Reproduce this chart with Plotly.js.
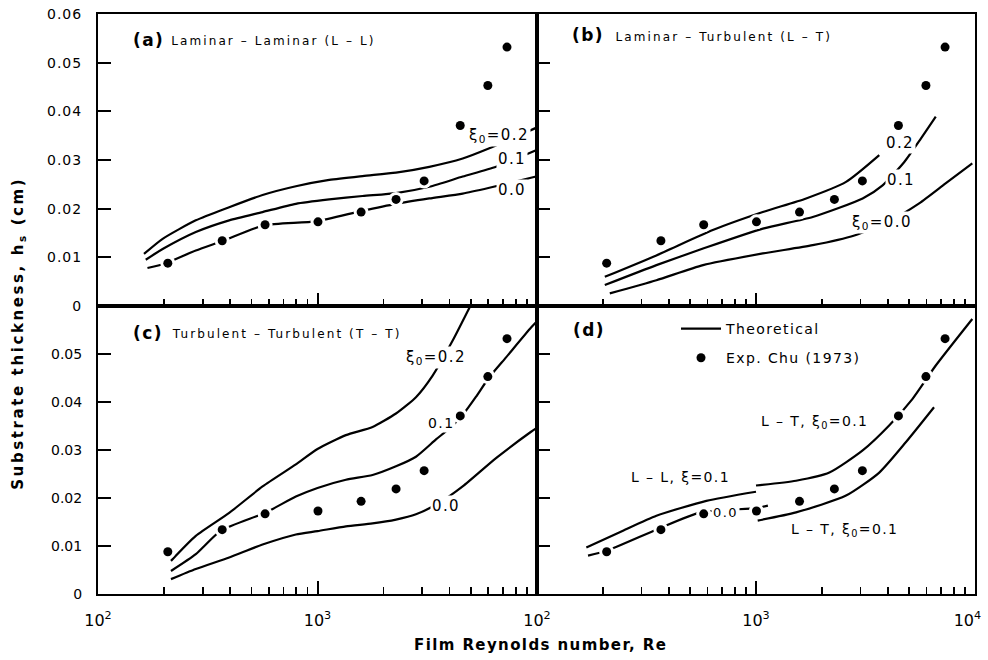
<!DOCTYPE html>
<html>
<head>
<meta charset="utf-8">
<script src="https://cdn.plot.ly/plotly-3.0.1.min.js"></script>
<style>
html,body{margin:0;padding:0;background:#fff;}
#chart{width:988px;height:660px;}
.annotation-text{letter-spacing:1.4px;}
.legendtext{letter-spacing:1.4px;}
.ytick text{letter-spacing:1px;}
.xtick text{letter-spacing:1px;}
</style>
</head>
<body>
<div id="chart"></div>
<script>
// Experimental data, Chu (1973)
const expRe = [208, 368, 577, 1005, 1580, 2280, 3060, 4470, 5970, 7300];
const expH  = [0.0088, 0.0134, 0.0167, 0.0173, 0.0193, 0.0219, 0.0257, 0.0371, 0.0453, 0.0532];

// (a) Laminar-Laminar
const aRe02 = [162, 197, 279, 396, 562, 797, 1131, 1605, 2278, 3232, 4587, 6067, 9900];
const aH02  = [0.0107, 0.0138, 0.0176, 0.0203, 0.0228, 0.0246, 0.0259, 0.0267, 0.0274, 0.0286, 0.0303, 0.0324, 0.0366];
const aRe01 = [165, 197, 279, 396, 562, 797, 1131, 1605, 2278, 3232, 4587, 6509, 9900];
const aH01  = [0.0095, 0.0117, 0.0152, 0.0176, 0.0193, 0.0210, 0.0219, 0.0226, 0.0232, 0.0245, 0.0266, 0.0286, 0.0320];
const aRe00 = [168, 204, 279, 376, 572, 983, 1578, 2278, 3232, 4587, 6067, 9900];
const aH00  = [0.0078, 0.0088, 0.0114, 0.0135, 0.0166, 0.0174, 0.0195, 0.0210, 0.0221, 0.0231, 0.0243, 0.0266];

// (b) Laminar-Turbulent
const bRe02 = [204, 351, 635, 1074, 1694, 2577, 3655];
const bH02  = [0.0060, 0.0104, 0.0156, 0.0193, 0.0221, 0.0255, 0.0310];
const bRe01 = [204, 351, 573, 1074, 1816, 3069, 3785, 4755, 5660, 6620];
const bH01  = [0.0043, 0.0084, 0.0118, 0.0159, 0.0183, 0.0221, 0.0248, 0.0296, 0.0344, 0.0389];
const bRe00 = [215, 351, 573, 1074, 1816, 2813, 4000, 5560, 7340, 9720];
const bH00  = [0.0026, 0.0053, 0.0084, 0.0108, 0.0125, 0.0145, 0.0173, 0.0211, 0.0252, 0.0293];

// (c) Turbulent-Turbulent
const cRe02 = [215, 279, 396, 562, 797, 1000, 1347, 1782, 2278, 2809, 3346, 4129, 5005];
const cH02  = [0.0069, 0.0121, 0.0169, 0.0224, 0.0270, 0.0302, 0.0331, 0.0348, 0.0376, 0.0410, 0.0455, 0.0528, 0.0603];
const cRe01 = [215, 279, 363, 582, 797, 1000, 1347, 1782, 2278, 2809, 3466, 3988, 4585, 5276, 6025, 7228, 9397, 9900];
const cH01  = [0.0048, 0.0083, 0.0132, 0.0170, 0.0203, 0.0221, 0.0238, 0.0248, 0.0266, 0.0286, 0.0322, 0.0345, 0.0373, 0.0411, 0.0450, 0.0493, 0.0555, 0.0566];
const cRe00 = [215, 279, 396, 562, 797, 1000, 1347, 1782, 2278, 2809, 3590, 4585, 6507, 9397, 9900];
const cH00  = [0.0031, 0.0052, 0.0076, 0.0103, 0.0124, 0.0131, 0.0141, 0.0147, 0.0155, 0.0166, 0.0190, 0.0224, 0.0283, 0.0338, 0.0345];

// (d) comparison
const dReLL01 = [168, 247, 351, 593, 1000];
const dHLL01  = [0.0097, 0.0132, 0.0163, 0.0194, 0.0213];
const dReLL00 = [171, 208, 355, 557, 1000, 1133];
const dHLL00  = [0.0080, 0.0090, 0.0135, 0.0170, 0.0179, 0.0184];
const dReLTup = [1000, 1524, 2164, 3069, 4055, 5175, 6620, 9720];
const dHLTup  = [0.0226, 0.0236, 0.0253, 0.0299, 0.0351, 0.0406, 0.0476, 0.0573];
const dReLTlo = [1018, 1524, 2577, 3655, 4830, 6500];
const dHLTlo  = [0.0153, 0.0170, 0.0205, 0.0253, 0.0316, 0.0389];

// ticks
const xMajor = [100, 1000, 10000];
const xMajorText = ['10<sup>2</sup>', '10<sup>3</sup>', '10<sup>4</sup>\u00A0\u00A0\u00A0'];
const xMinor = [200,300,400,500,600,700,800,900,2000,3000,4000,5000,6000,7000,8000,9000];
const yTop = [0, 0.01, 0.02, 0.03, 0.04, 0.05, 0.06];
const yTopText = ['0', '0.01', '0.02', '0.03', '0.04', '0.05', '0.06'];
const yBot = [0, 0.01, 0.02, 0.03, 0.04, 0.05];
const yBotText = ['0', '0.01', '0.02', '0.03', '0.04', '0.05'];

const FONT = 'DejaVu Sans, sans-serif';
const LW = 2.2;

function line(x, y, xa, ya, show) {
  return {x: x, y: y, xaxis: xa, yaxis: ya, type: 'scatter', mode: 'lines',
    line: {color: 'black', width: LW, shape: 'spline', smoothing: 0.6},
    name: 'Theoretical', legendgroup: 'g1', showlegend: !!show, hoverinfo: 'skip'};
}
function halo(xa, ya) {
  return {x: expRe, y: expH, xaxis: xa, yaxis: ya, type: 'scatter', mode: 'markers',
    marker: {color: 'white', size: 15, line: {width: 0}}, showlegend: false, hoverinfo: 'skip'};
}
function dots(xa, ya, show) {
  return {x: expRe, y: expH, xaxis: xa, yaxis: ya, type: 'scatter', mode: 'markers',
    marker: {color: 'black', size: 9, line: {width: 0}},
    name: 'Exp. Chu (1973)', legendgroup: 'g2', showlegend: !!show, hoverinfo: 'skip'};
}

const data = [
  line(aRe02, aH02, 'x', 'y'), line(aRe01, aH01, 'x', 'y'), line(aRe00, aH00, 'x', 'y'), halo('x', 'y'), dots('x', 'y'),
  line(bRe02, bH02, 'x2', 'y2'), line(bRe01, bH01, 'x2', 'y2'), line(bRe00, bH00, 'x2', 'y2'), halo('x2', 'y2'), dots('x2', 'y2'),
  line(cRe02, cH02, 'x3', 'y3'), line(cRe01, cH01, 'x3', 'y3'), line(cRe00, cH00, 'x3', 'y3'), halo('x3', 'y3'), dots('x3', 'y3'),
  line(dReLL01, dHLL01, 'x4', 'y4', true), line(dReLL00, dHLL00, 'x4', 'y4'),
  line(dReLTup, dHLTup, 'x4', 'y4'), line(dReLTlo, dHLTlo, 'x4', 'y4'), halo('x4', 'y4'), dots('x4', 'y4', true)
];

const L = 98, T = 14, W = 877, H = 580;
const XS = (537 - L) / W, YS = (T + H - 306) / H;
function xax(domain, anchor, labels) {
  return {type: 'log', domain: domain, anchor: anchor, range: [2, 4], autorange: false,
    showline: true, mirror: true, linewidth: 2, linecolor: 'black',
    ticks: 'inside', ticklen: 13, tickwidth: 2, tickcolor: 'black',
    tickmode: 'array', tickvals: xMajor, ticktext: labels || xMajorText, showticklabels: !!labels,
    ticklabeloverflow: 'allow',
    minor: {tickmode: 'array', tickvals: xMinor, ticks: 'inside', ticklen: 7, tickwidth: 1.6, tickcolor: 'black', showgrid: false},
    showgrid: false, zeroline: false, tickfont: {family: FONT, size: 16, color: 'black'}, ticklabelstandoff: 11};
}
function yax(domain, anchor, vals, text, labels) {
  return {domain: domain, anchor: anchor, range: [0, 0.06], autorange: false,
    showline: true, mirror: true, linewidth: 2, linecolor: 'black',
    ticks: 'inside', ticklen: 13, tickwidth: 2, tickcolor: 'black',
    tickmode: 'array', tickvals: vals, ticktext: text, showticklabels: labels,
    showgrid: false, zeroline: false, tickfont: {family: FONT, size: 14, color: 'black'}, ticklabelstandoff: 11};
}

function P(px, py) { return {x: (px - L) / W, y: (T + H - py) / H}; }
function ann(px, py, text, size, bg, extra) {
  const p = P(px, py);
  return Object.assign({xref: 'paper', yref: 'paper', x: p.x, y: p.y, xanchor: 'left', yanchor: 'middle',
    text: text, showarrow: false, font: {family: FONT, size: size, color: 'black'},
    bgcolor: bg ? 'white' : 'rgba(0,0,0,0)', borderpad: 1}, extra || {});
}
const X0 = 'ξ<sub>0</sub>';
const C = {xanchor: 'center'};
const annotations = [
  ann(131, 40, '<b>(a)</b>', 17), ann(273, 41, 'Laminar – Laminar (L – L)', 12, false, C),
  ann(467, 135, X0 + '=0.2', 15, true), ann(496, 159, '0.1', 15, true), ann(496, 190, '0.0', 15, true),
  ann(570, 35, '<b>(b)</b>', 17), ann(724, 37, 'Laminar – Turbulent (L – T)', 12, false, C),
  ann(884, 143, '0.2', 15, true), ann(885, 180, '0.1', 15, true), ann(850, 222, X0 + '=0.0', 15, true),
  ann(131, 333, '<b>(c)</b>', 17), ann(286, 334, 'Turbulent – Turbulent (T – T)', 12, false, C),
  ann(404, 357, X0 + '=0.2', 15, true), ann(426, 423, '0.1', 14, true), ann(430, 506, '0.0', 15, true),
  ann(571, 330, '<b>(d)</b>', 17),
  ann(759, 422, 'L – T, ' + X0 + '=0.1', 14, true), ann(629, 477, 'L – L, ξ=0.1', 14, true),
  ann(789, 530, 'L – T, ' + X0 + '=0.1', 14, true), ann(711, 512, '0.0', 13, true),
  ann(540, 645, '<b>Film Reynolds number, Re</b>', 15, false, C),
  ann(18, 333, '<b>Substrate thickness, h<sub>s</sub> (cm)</b>', 15, false, {xanchor: 'center', textangle: -90})
];
// extra letter spacing for the panel subtitles and the y title
const css = document.createElement('style');
css.textContent = [1, 6, 11].map(i => 'g.annotation[data-index="' + i + '"] .annotation-text{letter-spacing:2.1px;}').join('') +
  'g.annotation[data-index="21"] .annotation-text{letter-spacing:2.6px;}';
document.head.appendChild(css);

const layout = {
  width: 988, height: 660,
  margin: {l: L, r: 988 - L - W, t: T, b: 660 - T - H},
  paper_bgcolor: 'white', plot_bgcolor: 'white',
  font: {family: FONT, color: 'black'},
  xaxis: xax([0, XS], 'y'), yaxis: yax([YS, 1], 'x', yTop, yTopText, true),
  xaxis2: xax([XS, 1], 'y2'), yaxis2: yax([YS, 1], 'x2', yTop, yTopText, false),
  xaxis3: xax([0, XS], 'y3', ['10<sup>2</sup>', '10<sup>3</sup>', '']), yaxis3: yax([0, YS], 'x3', yBot, yBotText, true),
  xaxis4: xax([XS, 1], 'y4', xMajorText), yaxis4: yax([0, YS], 'x4', yBot, yBotText, false),
  showlegend: true,
  legend: {x: (676 - L) / W, y: (T + H - 313) / H, xanchor: 'left', yanchor: 'top', bgcolor: 'rgba(0,0,0,0)',
    font: {family: FONT, size: 14, color: 'black'}, traceorder: 'grouped', tracegroupgap: 8, itemwidth: 40},
  annotations: annotations
};

Plotly.newPlot('chart', data, layout, {displayModeBar: false, staticPlot: true});
</script>
</body>
</html>
